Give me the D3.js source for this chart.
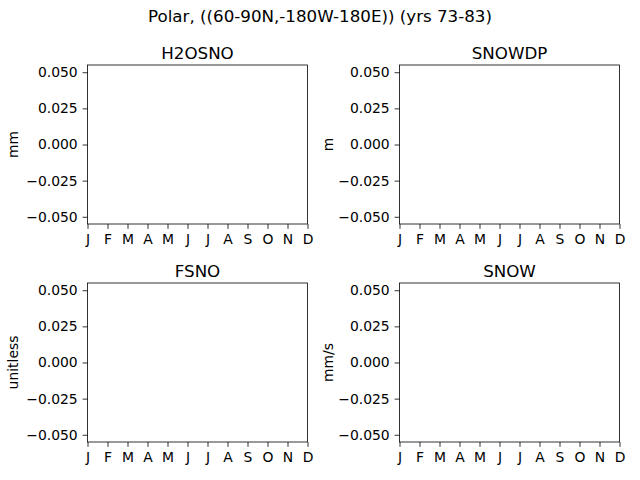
<!DOCTYPE html>
<html>
<head>
<meta charset="utf-8">
<script src="https://cdn.jsdelivr.net/npm/d3@7"></script>
<style>
  body { margin: 0; background: #fff; }
  svg, svg text { font-family: "DejaVu Sans", sans-serif; }
  .tick text { font-size: 13.9px; fill: #000; font-family: "DejaVu Sans", sans-serif; }
  .tick line { stroke: #000; stroke-width: 0.8; }
</style>
</head>
<body>
<svg id="fig" width="640" height="480"></svg>
<script>
// Panel info
const panelTitles = ["H2OSNO", "SNOWDP", "FSNO", "SNOW"];
const panelUnits = ["mm", "m", "unitless", "mm/s"];
const months = ["J", "F", "M", "A", "M", "J", "J", "A", "S", "O", "N", "D"];
const yTicks = [-0.05, -0.025, 0, 0.025, 0.05];
const yDomain = [-0.055, 0.055];
const suptitle = "Polar, ((60-90N,-180W-180E)) (yrs 73-83)";

const svg = d3.select("#fig");

svg.append("text")
  .attr("x", 320).attr("y", 22)
  .attr("text-anchor", "middle")
  .style("font-size", "16.7px")
  .text(suptitle);

// axes boxes (left, top) of each subplot
const boxes = [
  {x: 87.5, y: 65}, {x: 399.5, y: 65},
  {x: 87.5, y: 283}, {x: 399.5, y: 283}
];
const w = 220, h = 159;

panelTitles.forEach((title, i) => {
  const b = boxes[i];
  const g = svg.append("g").attr("transform", `translate(${b.x},${b.y})`);

  const x = d3.scaleLinear().domain([0, months.length - 1]).range([0, w]);
  const y = d3.scaleLinear().domain(yDomain).range([h, 0]);

  const xAxis = d3.axisBottom(x)
    .tickValues(d3.range(months.length))
    .tickFormat(d => months[d])
    .tickSize(4.9).tickPadding(4.9);
  const yAxis = d3.axisLeft(y)
    .tickValues(yTicks)
    .tickFormat(d => d3.format(".3f")(d).replace("-", "\u2212"))
    .tickSize(4.9).tickPadding(4.9);

  g.append("g").attr("transform", `translate(0,${h})`).call(xAxis)
    .attr("font-family", null).attr("font-size", null)
    .call(s => s.select(".domain").remove())
    .selectAll("text").attr("dy", "0.71em");
  g.append("g").call(yAxis)
    .attr("font-family", null).attr("font-size", null)
    .call(s => s.select(".domain").remove());

  g.append("rect")
    .attr("width", w).attr("height", h)
    .attr("fill", "none").attr("stroke", "#000").attr("stroke-width", 0.8);

  g.append("text")
    .attr("x", w / 2).attr("y", -6)
    .attr("text-anchor", "middle")
    .style("font-size", "16.7px")
    .text(title);

  g.append("text")
    .attr("transform", `translate(${i % 2 === 0 ? -70 : -67},${h / 2}) rotate(-90)`)
    .attr("text-anchor", "middle")
    .style("font-size", "13.9px")
    .text(panelUnits[i]);
});
</script>
</body>
</html>
